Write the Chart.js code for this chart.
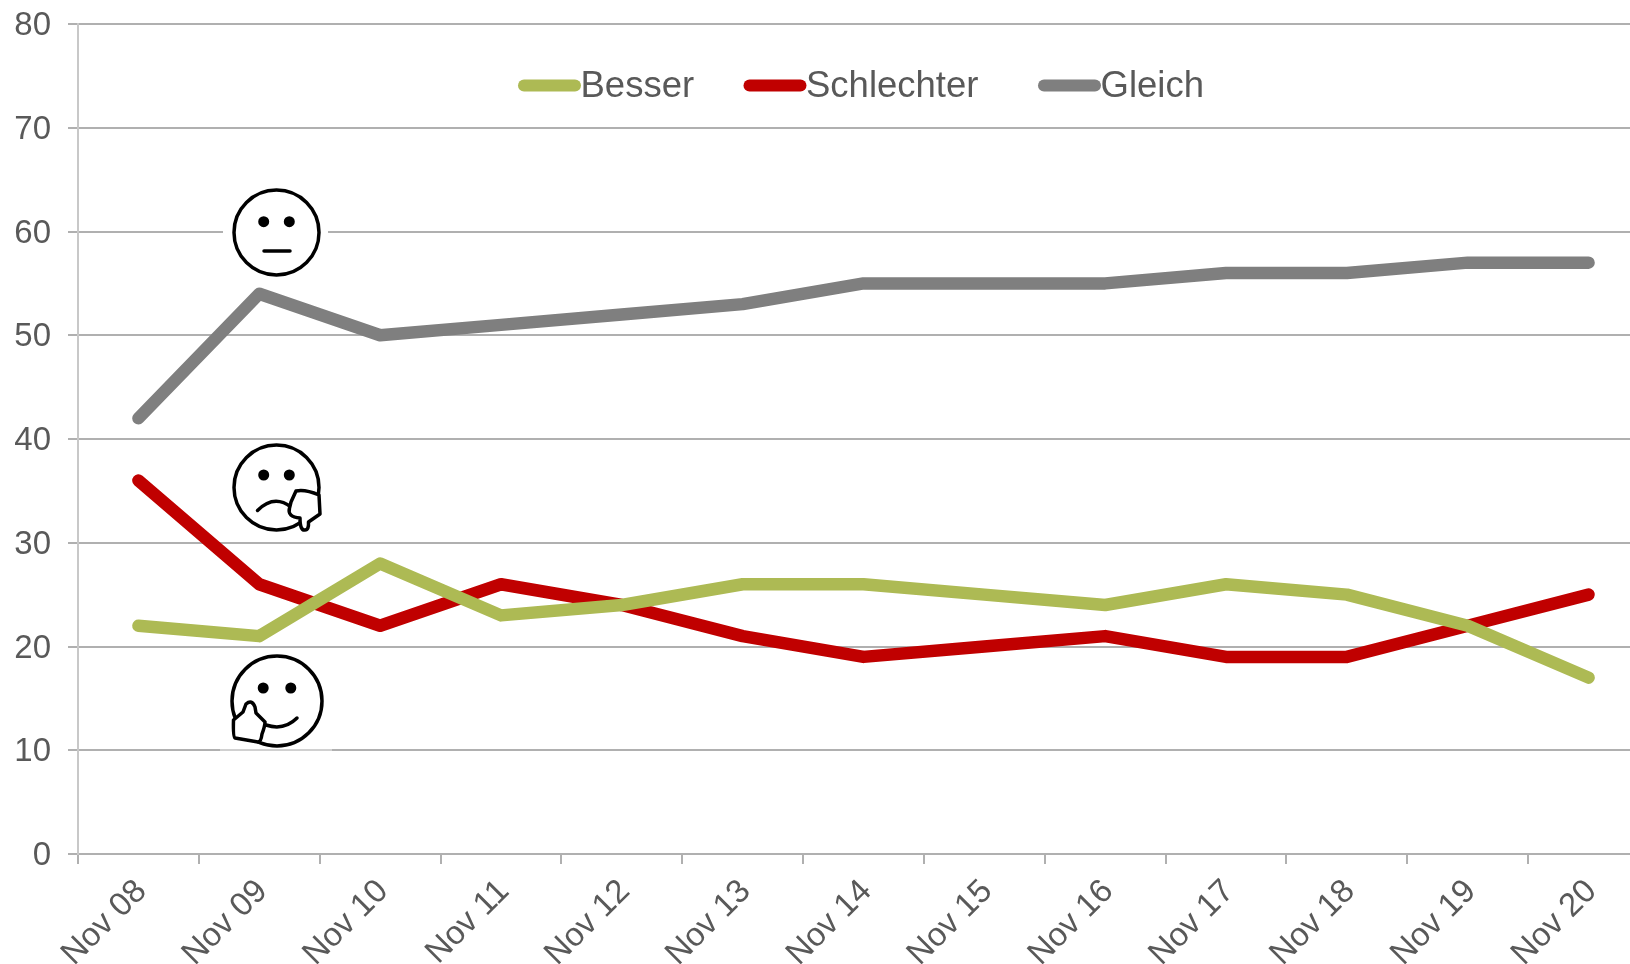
<!DOCTYPE html>
<html lang="de">
<head>
    <meta charset="UTF-8">
    <title>Besser, Schlechter, Gleich</title>
    <style>
        html, body { margin: 0; padding: 0; background: #ffffff; overflow: hidden; }
        #wrap { width: 1630px; height: 964px; overflow: hidden; }
        canvas { display: block; }
    </style>
</head>
<body>
    <div id="wrap"><canvas id="chart"></canvas></div>
    <script src="https://cdn.jsdelivr.net/npm/chart.js"></script>
    <script>
        const days = ['Nov 08', 'Nov 09', 'Nov 10', 'Nov 11', 'Nov 12', 'Nov 13', 'Nov 14', 'Nov 15', 'Nov 16', 'Nov 17', 'Nov 18', 'Nov 19', 'Nov 20'];
        const besser = [22, 21, 28, 23, 24, 26, 26, 25, 24, 26, 25, 22, 17];
        const schlechter = [36, 26, 22, 26, 24, 21, 19, 20, 21, 19, 19, 22, 25];
        const gleich = [42, 54, 50, 51, 52, 53, 55, 55, 55, 56, 56, 57, 57];

        const textColor = '#595959';
        const gridColor = '#b0b0b0';
        const font = 'Liberation Sans';

        // the plot runs past the right edge of the picture, the wrapper crops it
        const canvas = document.getElementById('chart');
        canvas.width = 1649;
        canvas.height = 964;
        canvas.style.width = '1649px';
        canvas.style.height = '964px';

        function face(ctx, x, y, r, eyeY, eyeDx) {
            ctx.beginPath();
            ctx.arc(x, y, r, 0, Math.PI * 2);
            ctx.stroke();
            ctx.beginPath();
            ctx.arc(x - eyeDx, eyeY, 5.5, 0, Math.PI * 2);
            ctx.arc(x + eyeDx, eyeY, 5.5, 0, Math.PI * 2);
            ctx.fill();
        }

        // smileys sitting on the chart, with the white patch behind the neutral one
        const smileys = {
            id: 'smileys',
            beforeDatasetsDraw(chart) {
                const ctx = chart.ctx;
                ctx.save();
                ctx.fillStyle = '#ffffff';
                ctx.fillRect(223, 180, 105, 100);
                ctx.fillStyle = '#d0d0d0';
                ctx.fillRect(220, 749, 112, 2);
                ctx.restore();
            },
            afterDatasetsDraw(chart) {
                const ctx = chart.ctx;
                ctx.save();
                ctx.strokeStyle = '#000000';
                ctx.fillStyle = '#000000';
                ctx.lineWidth = 3.5;
                ctx.lineCap = 'round';
                ctx.lineJoin = 'round';

                // neutral
                face(ctx, 276.5, 232.5, 42.5, 221.7, 12.8);
                ctx.beginPath();
                ctx.moveTo(264, 251);
                ctx.lineTo(290, 251);
                ctx.stroke();

                // schlechter, thumb down
                face(ctx, 276.5, 487.5, 42.5, 475, 12.8);
                ctx.beginPath();
                ctx.moveTo(257.5, 510.5);
                ctx.quadraticCurveTo(274, 494, 291, 507);
                ctx.stroke();
                ctx.beginPath();
                ctx.moveTo(296, 491);
                ctx.quadraticCurveTo(305, 489, 319, 495);
                ctx.lineTo(320, 514);
                ctx.lineTo(308.5, 522);
                ctx.quadraticCurveTo(309, 530, 305, 530);
                ctx.quadraticCurveTo(300, 531, 300, 518);
                ctx.quadraticCurveTo(287, 517, 289.5, 508);
                ctx.lineTo(291, 502);
                ctx.closePath();
                ctx.fillStyle = '#ffffff';
                ctx.fill();
                ctx.stroke();
                ctx.fillStyle = '#000000';

                // besser, thumb up
                face(ctx, 277, 701, 45, 688, 13.8);
                ctx.beginPath();
                ctx.moveTo(266, 725);
                ctx.quadraticCurveTo(284, 731, 297, 718);
                ctx.stroke();
                ctx.beginPath();
                ctx.moveTo(233.5, 720);
                ctx.lineTo(243, 712);
                ctx.lineTo(246, 704);
                ctx.quadraticCurveTo(252, 699, 255, 707);
                ctx.lineTo(256, 713);
                ctx.lineTo(265, 722);
                ctx.quadraticCurveTo(265, 726, 262, 734);
                ctx.quadraticCurveTo(261, 742, 258, 742);
                ctx.lineTo(235, 738);
                ctx.quadraticCurveTo(233, 737, 233.5, 720);
                ctx.closePath();
                ctx.fillStyle = '#ffffff';
                ctx.fill();
                ctx.stroke();
                ctx.restore();
            }
        };

        // legend is drawn here since the built-in one can't put the text right against the line
        const legendX = [518, 743.5, 1038];
        const topLegend = {
            id: 'topLegend',
            afterDraw(chart) {
                const ctx = chart.ctx;
                ctx.save();
                ctx.font = '36.5px "' + font + '"';
                ctx.textBaseline = 'alphabetic';
                chart.data.datasets.forEach((ds, i) => {
                    ctx.fillStyle = ds.borderColor;
                    ctx.beginPath();
                    ctx.roundRect(legendX[i], 79.5, 63, 12, 6);
                    ctx.fill();
                    ctx.fillStyle = textColor;
                    ctx.fillText(ds.label, legendX[i] + 62.5, 97);
                });
                ctx.restore();
            }
        };

        new Chart(canvas, {
            type: 'line',
            data: {
                labels: days,
                datasets: [
                    { label: 'Besser', data: besser, borderColor: '#adba54' },
                    { label: 'Schlechter', data: schlechter, borderColor: '#c00000' },
                    { label: 'Gleich', data: gleich, borderColor: '#7f7f7f' }
                ]
            },
            options: {
                responsive: false,
                animation: false,
                layout: { padding: { top: 24, right: 0, left: 0, bottom: 0 } },
                elements: {
                    point: { radius: 0 },
                    line: { borderWidth: 12.5, tension: 0, borderCapStyle: 'round', borderJoinStyle: 'round' }
                },
                plugins: {
                    legend: { display: false },
                    tooltip: { enabled: false }
                },
                scales: {
                    x: {
                        offset: true,
                        afterFit(scale) {
                            scale.height = 110;
                            scale.paddingLeft = 0;
                            scale.paddingRight = 0;
                        },
                        grid: { offset: true, drawOnChartArea: false, color: gridColor, lineWidth: 2, tickLength: 10 },
                        border: { color: gridColor, width: 2 },
                        ticks: {
                            color: textColor,
                            font: { family: font, size: 33 },
                            minRotation: 45,
                            maxRotation: 45,
                            autoSkip: false,
                            padding: 8,
                            labelOffset: 3
                        }
                    },
                    y: {
                        min: 0,
                        max: 80,
                        afterFit(scale) {
                            scale.width = 78;
                            scale.paddingTop = 0;
                            scale.paddingBottom = 0;
                        },
                        grid: { color: gridColor, lineWidth: 2, tickLength: 10 },
                        border: { color: '#c8c8c8', width: 2 },
                        ticks: {
                            stepSize: 10,
                            color: textColor,
                            font: { family: font, size: 33 },
                            padding: 17,
                            labelOffset: 2
                        }
                    }
                }
            },
            plugins: [smileys, topLegend]
        });
    </script>
</body>
</html>
